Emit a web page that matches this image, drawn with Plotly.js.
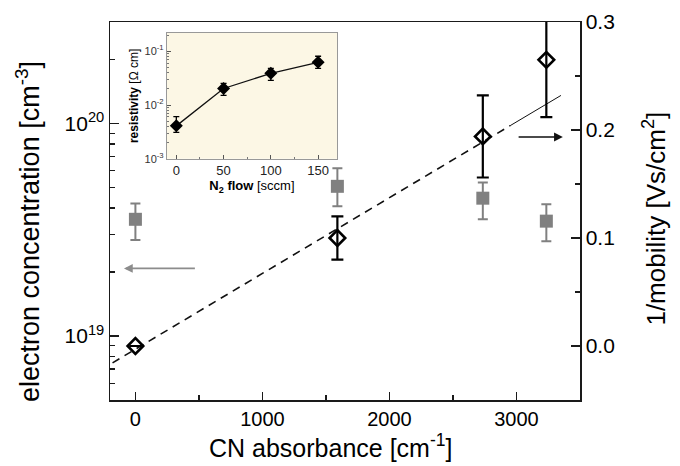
<!DOCTYPE html>
<html>
<head>
<meta charset="utf-8">
<script src="https://cdn.plot.ly/plotly-3.0.1.min.js"></script>
<style>html,body{margin:0;padding:0;background:#fff;}#chart{width:680px;height:466px;}</style>
</head>
<body>
<div id="chart"></div>
<script>
// Main chart: electron concentration (left, log) vs CN absorbance
const cnAbs = [0, 1590, 2735, 3235];
const electronConc = [3.54e19, 5.06e19, 4.45e19, 3.47e19];
const electronErrPlus = [0.66e19, 1.09e19, 0.83e19, 0.70e19];
const electronErrMinus = [0.71e19, 0.98e19, 0.91e19, 0.68e19];

// 1/mobility (right axis)
const invMobility = [0.0, 0.1, 0.194, 0.265];
const invMobilityErr = [0.0, 0.02, 0.038, 0.053];

// dashed linear fit (endpoints)
const fitDashX = [-180, 2950];
const fitDashY = [-0.0156, 0.204];
const fitSolidX = [2950, 3350];
const fitSolidY = [0.204, 0.232];

// Inset: resistivity vs N2 flow
const n2Flow = [0, 50, 100, 150];
const resistivity = [0.0041, 0.0203, 0.0388, 0.0622];
const resErrPlus = [0.0020, 0.0049, 0.0092, 0.0185];
const resErrMinus = [0.0010, 0.0052, 0.0101, 0.0142];

// tick labels
const xTickVals = [0, 1000, 2000, 3000];
const leftTickVals = [1e19, 1e20];
const leftTickText = ['10<sup>19</sup>', '10<sup>20</sup>'];
const insetXTickVals = [0, 50, 100, 150];
const insetTickVals = [0.001, 0.01, 0.1];
const insetTickText = ['10<sup>-3</sup>', '10<sup>-2</sup>', '10<sup>-1</sup>'];

const FONT = 'Arial, "Liberation Sans", sans-serif';
const AX = '#1a1a1a';

const traces = [
  {
    x: cnAbs, y: electronConc, type: 'scatter', mode: 'markers',
    xaxis: 'x', yaxis: 'y',
    marker: {symbol: 'square', size: 13, color: '#808080'},
    error_y: {type: 'data', symmetric: false, array: electronErrPlus, arrayminus: electronErrMinus,
              color: '#808080', thickness: 2, width: 5},
    showlegend: false
  },
  {
    x: fitDashX, y: fitDashY, type: 'scatter', mode: 'lines',
    xaxis: 'x', yaxis: 'y2',
    line: {color: '#111', width: 1.6, dash: '8px,6px'},
    showlegend: false
  },
  {
    x: fitSolidX, y: fitSolidY, type: 'scatter', mode: 'lines',
    xaxis: 'x', yaxis: 'y2',
    line: {color: '#111', width: 1},
    showlegend: false
  },
  {
    x: cnAbs, y: invMobility, type: 'scatter', mode: 'markers',
    xaxis: 'x', yaxis: 'y2',
    marker: {symbol: 'diamond-open', size: 12, color: '#000', line: {width: 2.6, color: '#000'}},
    error_y: {type: 'data', array: invMobilityErr, color: '#000', thickness: 2.2, width: 6},
    showlegend: false
  },
  {
    x: n2Flow, y: resistivity, type: 'scatter', mode: 'lines+markers',
    xaxis: 'x2', yaxis: 'y3',
    line: {color: '#111', width: 1.3},
    marker: {symbol: 'diamond', size: 10, color: '#000'},
    error_y: {type: 'data', symmetric: false, array: resErrPlus, arrayminus: resErrMinus,
              color: '#000', thickness: 1.3, width: 3},
    showlegend: false
  }
];

const layout = {
  width: 680, height: 466,
  margin: {l: 110, r: 100, t: 22, b: 66},
  paper_bgcolor: '#fff', plot_bgcolor: 'rgba(0,0,0,0)',
  font: {family: FONT, color: '#000', size: 20},
  showlegend: false,
  xaxis: {
    range: [-200, 3500], showgrid: false, zeroline: false,
    showline: true, linecolor: AX, linewidth: 1.5, mirror: true,
    ticks: 'inside', ticklen: 8, tickwidth: 1.3, tickcolor: AX,
    tickvals: xTickVals,
    minor: {dtick: 500, tick0: 0, ticks: 'inside', ticklen: 5, tickcolor: AX, tickwidth: 1.2},
    tickfont: {size: 20}
  },
  yaxis: {
    type: 'log', range: [Math.log10(5e18), Math.log10(3e20)],
    showgrid: false, zeroline: false,
    showline: true, linecolor: AX, linewidth: 1.5,
    ticks: 'inside', ticklen: 9, tickwidth: 1.3, tickcolor: AX,
    tickvals: leftTickVals, ticktext: leftTickText,
    minor: {dtick: 'D1', ticks: 'inside', ticklen: 5, tickcolor: AX, tickwidth: 1.2},
    tickfont: {size: 21}
  },
  yaxis2: {
    overlaying: 'y', side: 'right', range: [-0.05, 0.3],
    showgrid: false, zeroline: false,
    showline: true, linecolor: AX, linewidth: 1.5,
    ticks: 'inside', ticklen: 9, tickwidth: 1.3, tickcolor: AX,
    dtick: 0.1, tick0: 0, tickformat: '.1f',
    minor: {dtick: 0.05, tick0: 0, ticks: 'inside', ticklen: 5, tickcolor: AX, tickwidth: 1.2},
    tickfont: {size: 21}
  },
  xaxis2: {
    domain: [0.121, 0.483], anchor: 'y3', range: [-10, 170],
    showgrid: false, zeroline: false,
    showline: true, linecolor: '#999', linewidth: 1, mirror: true,
    ticks: 'inside', ticklen: 4, tickcolor: '#555', tickwidth: 1,
    tickvals: insetXTickVals,
    minor: {dtick: 25, tick0: 0, ticks: 'inside', ticklen: 2, tickcolor: '#777'},
    tickfont: {size: 13, color: '#222'},
    title: {text: '<b>N<sub>2</sub> flow</b> [sccm]', font: {size: 13}, standoff: 1}
  },
  yaxis3: {
    domain: [0.638, 0.971], anchor: 'x2', type: 'log', range: [-3, -0.66],
    showgrid: false, zeroline: false,
    showline: true, linecolor: '#999', linewidth: 1, mirror: true,
    ticks: 'inside', ticklen: 4, tickcolor: '#555', tickwidth: 1,
    tickvals: insetTickVals, ticktext: insetTickText,
    minor: {dtick: 'D1', ticks: 'inside', ticklen: 2, tickcolor: '#777'},
    tickfont: {size: 11, color: '#333'},
    title: {text: '<b>resistivity</b> [\u03a9 cm]', font: {size: 12}, standoff: 3}
  },
  shapes: [
    {type: 'rect', xref: 'x2 domain', yref: 'y3 domain', x0: 0, x1: 1, y0: 0, y1: 1,
     fillcolor: '#fcf7e5', line: {width: 0}, layer: 'below'}
  ],
  annotations: [
    {xref: 'x', yref: 'y', axref: 'x', ayref: 'y',
     x: -90, y: Math.log10(2.08e19), ax: 480, ay: Math.log10(2.08e19),
     showarrow: true, arrowhead: 2, arrowsize: 1.1, arrowwidth: 1.6, arrowcolor: '#8c8c8c', text: ''},
    {xref: 'x', yref: 'y2', axref: 'x', ayref: 'y2',
     x: 3365, y: 0.1935, ax: 3005, ay: 0.1935,
     showarrow: true, arrowhead: 2, arrowsize: 1.1, arrowwidth: 1.6, arrowcolor: '#111', text: ''},
    {xref: 'paper', yref: 'paper', x: 0.47, y: -0.121, xanchor: 'center', yanchor: 'middle',
     showarrow: false, text: 'CN absorbance [cm<sup>-1</sup>]', font: {size: 25}},
    {xref: 'paper', yref: 'paper', x: -0.1745, y: 0.447, xanchor: 'center', yanchor: 'middle',
     textangle: -90, showarrow: false, text: 'electron concentration [cm<sup>-3</sup>]', font: {size: 27}},
    {xref: 'paper', yref: 'paper', x: 1.1596, y: 0.48, xanchor: 'center', yanchor: 'middle',
     textangle: -90, showarrow: false, text: '1/mobility [Vs/cm<sup>2</sup>]', font: {size: 26}}
  ]
};

Plotly.newPlot('chart', traces, layout, {staticPlot: true, displayModeBar: false});
</script>
</body>
</html>
